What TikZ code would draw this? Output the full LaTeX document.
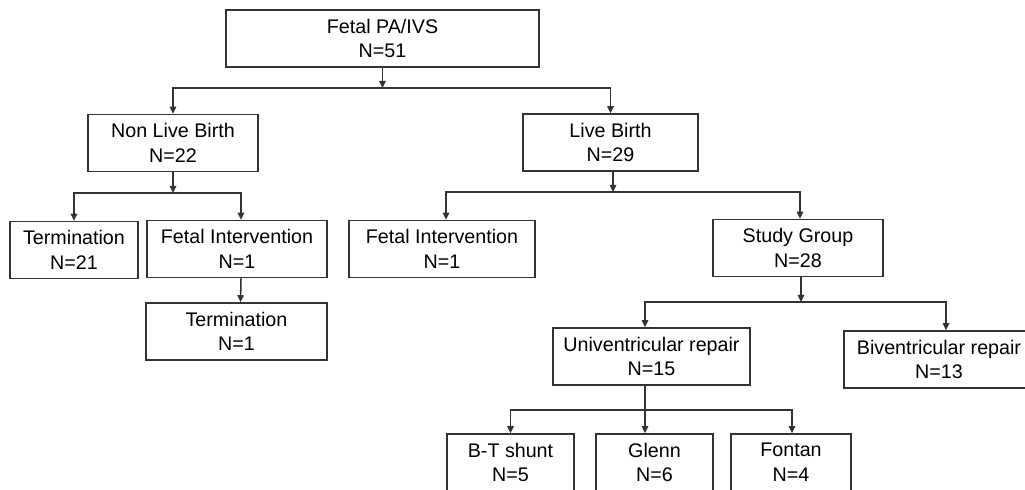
\documentclass[tikz,border=0pt]{standalone}
\usepackage{fontspec}
\setmainfont{Liberation Sans}
\usetikzlibrary{arrows.meta}
\newcommand{\px}{0.025cm}
\tikzset{
  box/.style={draw=black!80, line width=1.1pt, align=center, inner sep=0pt,
    font=\fontsize{14}{17.5}\selectfont, minimum height=57*\px},
  arr/.style={draw=black!80, line width=1.1pt, -{Triangle[length=5pt,width=4.5pt]}}
}
\begin{document}
\begin{tikzpicture}[x=\px, y=-\px]
\useasboundingbox (0,0) rectangle (1025,489);
% boxes
\node[box, minimum width=313*\px] (fetal) at (382.5,38.5) {Fetal PA/IVS\\N=51};
\node[box, minimum width=170*\px] (nlb) at (173,143) {Non Live Birth\\N=22};
\node[box, minimum width=175*\px] (lb) at (610.5,142.5) {Live Birth\\N=29};
\node[box, minimum width=128*\px] (term) at (74,250) {Termination\\N=21};
\node[box, minimum width=180*\px] (fil) at (237,249) {Fetal Intervention\\N=1};
\node[box, minimum width=181*\px] (termb) at (236.5,331.5) {Termination\\N=1};
\node[box, minimum width=186*\px] (fir) at (442,249) {Fetal Intervention\\N=1};
\node[box, minimum width=170*\px] (study) at (798,248) {Study Group\\N=28};
\node[box, minimum width=197*\px] (uni) at (651.5,356.5) {Univentricular repair\\N=15};
\node[box, minimum width=190*\px] (bi) at (939,359.5) {Biventricular repair\\N=13};
\node[box, minimum width=127*\px] (bt) at (510.5,462.5) {B-T shunt\\N=5};
\node[box, minimum width=117*\px] (glenn) at (654.5,462.5) {Glenn\\N=6};
\node[box, minimum width=120*\px] (fontan) at (791,462.5) {Fontan\\N=4};

% fetal -> births
\coordinate (j1) at (382.5,88);
\draw[arr] (fetal.south) -- (j1);
\draw[arr] (j1) -| (nlb.north);
\draw[arr] (j1) -| (lb.north);

% non live birth
\coordinate (j2) at (173,193);
\draw[arr] (nlb.south) -- (j2);
\draw[arr] (j2) -| (term.north);
\draw[arr] (j2) -| ([xshift=4*\px]fil.north);
\draw[arr] ([xshift=4*\px]fil.south) -- ([xshift=4*\px]termb.north);

% live birth
\coordinate (j3) at (613,192);
\draw[arr] (lb.south -| j3) -- (j3);
\draw[arr] (j3) -| ([xshift=4*\px]fir.north);
\draw[arr] (j3) -| ([xshift=2*\px]study.north);

% study group
\coordinate (j4) at (801,302);
\draw[arr] (study.south -| j4) -- (j4);
\draw[arr] (j4) -| ([xshift=-6.5*\px]uni.north);
\draw[arr] (j4) -| ([xshift=7*\px]bi.north);

% univentricular
\coordinate (j5) at (645,410);
\draw[arr] (uni.south -| j5) -- (j5 |- glenn.north);
\draw[arr] (j5) -| (bt.north);
\draw[arr] (j5) -| ([xshift=1*\px]fontan.north);
\end{tikzpicture}
\end{document}
